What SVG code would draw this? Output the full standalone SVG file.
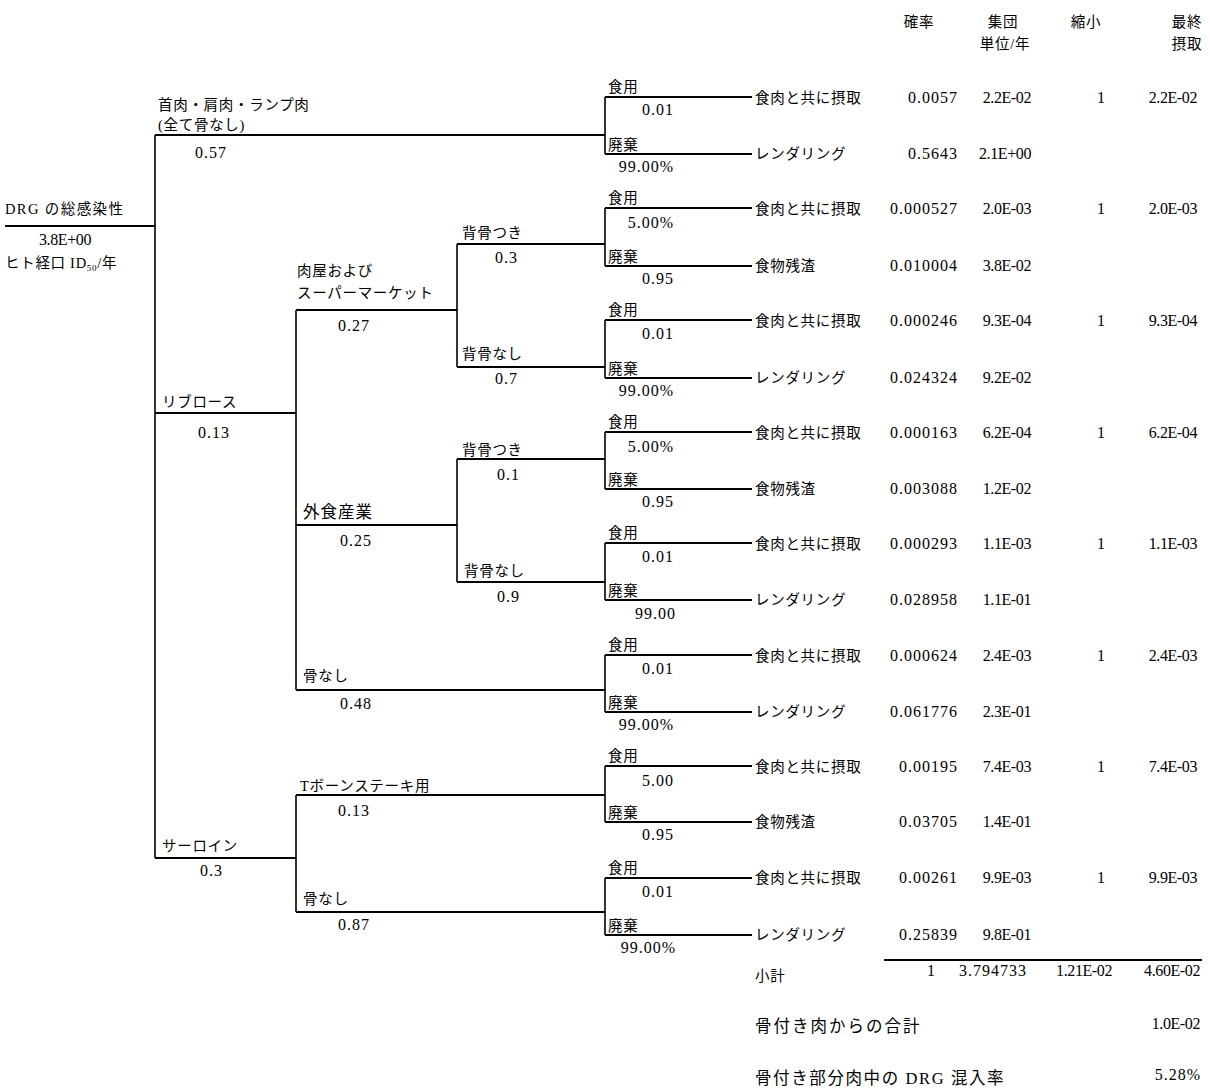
<svg xmlns="http://www.w3.org/2000/svg" width="1210" height="1089" viewBox="0 0 1210 1089">
<style>
text{fill:#000}
.jp{font-family:"Liberation Serif","Noto Sans CJK JP",serif;font-size:14.5px;letter-spacing:0.7px}
.jl{font-family:"Liberation Serif","Noto Sans CJK JP",serif;font-size:16.5px;letter-spacing:2px}
.n{font-family:"Liberation Serif",serif;font-size:16px;letter-spacing:1px}
.x{letter-spacing:-0.4px}
.e{text-anchor:end}
.m{text-anchor:middle}
.ln{stroke:#000;stroke-width:2;fill:none}
.lv{stroke:#000;stroke-width:1.6;fill:none}
</style>
<rect width="1210" height="1089" fill="#fff"/>

<g id="header">
<text class="jp m" x="919" y="27">確率</text>
<text class="jp m" x="1003" y="27">集団</text>
<text class="jp m" x="1005" y="49">単位/年</text>
<text class="jp m" x="1086" y="27">縮小</text>
<text class="jp m" x="1187" y="27">最終</text>
<text class="jp m" x="1187" y="49">摂取</text>
</g>

<g id="connectors">
<path class="ln" d="M5 226H155"/>
<path class="lv" d="M155 135V858"/>
<path class="ln" d="M155 135H605"/>
<path class="ln" d="M155 413H296"/>
<path class="ln" d="M155 858H296"/>
<path class="lv" d="M296 310V690"/>
<path class="ln" d="M296 310H457"/>
<path class="ln" d="M296 525H457"/>
<path class="ln" d="M296 690H605"/>
<path class="lv" d="M457 244V367"/>
<path class="ln" d="M457 244H605"/>
<path class="ln" d="M457 367H605"/>
<path class="lv" d="M457 459V582"/>
<path class="ln" d="M457 459H605"/>
<path class="ln" d="M457 582H605"/>
<path class="lv" d="M296 795V912"/>
<path class="ln" d="M296 795H605"/>
<path class="ln" d="M296 912H605"/>
<path class="lv" d="M605 97V154"/><path class="ln" d="M605 97H752M605 154H752"/>
<path class="lv" d="M605 208V266"/><path class="ln" d="M605 208H752M605 266H752"/>
<path class="lv" d="M605 320V378"/><path class="ln" d="M605 320H752M605 378H752"/>
<path class="lv" d="M605 432V489"/><path class="ln" d="M605 432H752M605 489H752"/>
<path class="lv" d="M605 543V600"/><path class="ln" d="M605 543H752M605 600H752"/>
<path class="lv" d="M605 655V712"/><path class="ln" d="M605 655H752M605 712H752"/>
<path class="lv" d="M605 766V822"/><path class="ln" d="M605 766H752M605 822H752"/>
<path class="lv" d="M605 878V935"/><path class="ln" d="M605 878H752M605 935H752"/>
<path class="ln" d="M884 960H1202"/>
</g>

<g id="root">
<text class="jp" x="5" y="214" style="letter-spacing:1.4px">DRG の総感染性</text>
<text class="n x" x="39" y="245">3.8E+00</text>
<text class="jp" x="5" y="268">ヒト経口 ID<tspan font-size="9" dy="3">50</tspan><tspan dy="-3">/年</tspan></text>
</g>

<g id="n-neck">
<text class="jp" x="158" y="110">首肉・肩肉・ランプ肉</text>
<text class="jp" x="158" y="130">(全て骨なし)</text>
<text class="n" x="195" y="158">0.57</text>
</g>
<g id="n-rib">
<text class="jp" x="162" y="407">リブロース</text>
<text class="n" x="198" y="438">0.13</text>
</g>
<g id="n-sirloin">
<text class="jp" x="162" y="851">サーロイン</text>
<text class="n" x="200" y="876">0.3</text>
</g>
<g id="n-butcher">
<text class="jp" x="297" y="276">肉屋および</text>
<text class="jp" x="297" y="298">スーパーマーケット</text>
<text class="n" x="338" y="331">0.27</text>
</g>
<g id="n-food">
<text class="jl" x="303" y="518" style="letter-spacing:1px">外食産業</text>
<text class="n" x="340" y="546">0.25</text>
</g>
<g id="n-boneless-rib">
<text class="jp" x="303" y="681">骨なし</text>
<text class="n" x="340" y="709">0.48</text>
</g>
<g id="n-tbone">
<text class="jp" x="300" y="791">Tボーンステーキ用</text>
<text class="n" x="338" y="816">0.13</text>
</g>
<g id="n-boneless-sirloin">
<text class="jp" x="303" y="904">骨なし</text>
<text class="n" x="338" y="930">0.87</text>
</g>
<g id="n-b-with">
<text class="jp" x="462" y="238">背骨つき</text>
<text class="n" x="495" y="263">0.3</text>
</g>
<g id="n-b-without">
<text class="jp" x="462" y="359">背骨なし</text>
<text class="n" x="495" y="384">0.7</text>
</g>
<g id="n-f-with">
<text class="jp" x="462" y="455">背骨つき</text>
<text class="n" x="497" y="480">0.1</text>
</g>
<g id="n-f-without">
<text class="jp" x="464" y="576">背骨なし</text>
<text class="n" x="497" y="602">0.9</text>
</g>

<g id="c1">
<text class="jp" x="608" y="92">食用</text><text class="n e" x="674" y="115">0.01</text>
<text class="jp" x="608" y="150">廃棄</text><text class="n e" x="674" y="172">99.00%</text>
<text class="jp" x="755" y="103">食肉と共に摂取</text><text class="n e" x="958" y="103">0.0057</text><text class="n x e" x="1031" y="103">2.2E-02</text><text class="n" x="1097" y="103">1</text><text class="n x e" x="1197" y="103">2.2E-02</text>
<text class="jp" x="755" y="159">レンダリング</text><text class="n e" x="958" y="159">0.5643</text><text class="n x e" x="1031" y="159">2.1E+00</text>
</g>
<g id="c2">
<text class="jp" x="608" y="203">食用</text><text class="n e" x="674" y="228">5.00%</text>
<text class="jp" x="608" y="262">廃棄</text><text class="n e" x="674" y="284">0.95</text>
<text class="jp" x="755" y="214">食肉と共に摂取</text><text class="n e" x="958" y="214">0.000527</text><text class="n x e" x="1031" y="214">2.0E-03</text><text class="n" x="1097" y="214">1</text><text class="n x e" x="1197" y="214">2.0E-03</text>
<text class="jp" x="755" y="271">食物残渣</text><text class="n e" x="958" y="271">0.010004</text><text class="n x e" x="1031" y="271">3.8E-02</text>
</g>
<g id="c3">
<text class="jp" x="608" y="315">食用</text><text class="n e" x="674" y="339">0.01</text>
<text class="jp" x="608" y="374">廃棄</text><text class="n e" x="674" y="396">99.00%</text>
<text class="jp" x="755" y="326">食肉と共に摂取</text><text class="n e" x="958" y="326">0.000246</text><text class="n x e" x="1031" y="326">9.3E-04</text><text class="n" x="1097" y="326">1</text><text class="n x e" x="1197" y="326">9.3E-04</text>
<text class="jp" x="755" y="383">レンダリング</text><text class="n e" x="958" y="383">0.024324</text><text class="n x e" x="1031" y="383">9.2E-02</text>
</g>
<g id="c4">
<text class="jp" x="608" y="427">食用</text><text class="n e" x="674" y="452">5.00%</text>
<text class="jp" x="608" y="485">廃棄</text><text class="n e" x="674" y="507">0.95</text>
<text class="jp" x="755" y="438">食肉と共に摂取</text><text class="n e" x="958" y="438">0.000163</text><text class="n x e" x="1031" y="438">6.2E-04</text><text class="n" x="1097" y="438">1</text><text class="n x e" x="1197" y="438">6.2E-04</text>
<text class="jp" x="755" y="494">食物残渣</text><text class="n e" x="958" y="494">0.003088</text><text class="n x e" x="1031" y="494">1.2E-02</text>
</g>
<g id="c5">
<text class="jp" x="608" y="538">食用</text><text class="n e" x="674" y="562">0.01</text>
<text class="jp" x="608" y="596">廃棄</text><text class="n e" x="676" y="619">99.00</text>
<text class="jp" x="755" y="549">食肉と共に摂取</text><text class="n e" x="958" y="549">0.000293</text><text class="n x e" x="1031" y="549">1.1E-03</text><text class="n" x="1097" y="549">1</text><text class="n x e" x="1197" y="549">1.1E-03</text>
<text class="jp" x="755" y="605">レンダリング</text><text class="n e" x="958" y="605">0.028958</text><text class="n x e" x="1031" y="605">1.1E-01</text>
</g>
<g id="c6">
<text class="jp" x="608" y="650">食用</text><text class="n e" x="674" y="674">0.01</text>
<text class="jp" x="608" y="708">廃棄</text><text class="n e" x="674" y="730">99.00%</text>
<text class="jp" x="755" y="661">食肉と共に摂取</text><text class="n e" x="958" y="661">0.000624</text><text class="n x e" x="1031" y="661">2.4E-03</text><text class="n" x="1097" y="661">1</text><text class="n x e" x="1197" y="661">2.4E-03</text>
<text class="jp" x="755" y="717">レンダリング</text><text class="n e" x="958" y="717">0.061776</text><text class="n x e" x="1031" y="717">2.3E-01</text>
</g>
<g id="c7">
<text class="jp" x="608" y="761">食用</text><text class="n e" x="674" y="786">5.00</text>
<text class="jp" x="608" y="818">廃棄</text><text class="n e" x="674" y="840">0.95</text>
<text class="jp" x="755" y="772">食肉と共に摂取</text><text class="n e" x="958" y="772">0.00195</text><text class="n x e" x="1031" y="772">7.4E-03</text><text class="n" x="1097" y="772">1</text><text class="n x e" x="1197" y="772">7.4E-03</text>
<text class="jp" x="755" y="827">食物残渣</text><text class="n e" x="958" y="827">0.03705</text><text class="n x e" x="1031" y="827">1.4E-01</text>
</g>
<g id="c8">
<text class="jp" x="608" y="873">食用</text><text class="n e" x="674" y="897">0.01</text>
<text class="jp" x="608" y="931">廃棄</text><text class="n e" x="676" y="953">99.00%</text>
<text class="jp" x="755" y="883">食肉と共に摂取</text><text class="n e" x="958" y="883">0.00261</text><text class="n x e" x="1031" y="883">9.9E-03</text><text class="n" x="1097" y="883">1</text><text class="n x e" x="1197" y="883">9.9E-03</text>
<text class="jp" x="755" y="940">レンダリング</text><text class="n e" x="958" y="940">0.25839</text><text class="n x e" x="1031" y="940">9.8E-01</text>
</g>

<g id="summary">
<text class="jp" x="755" y="981">小計</text>
<text class="n" x="927" y="976">1</text>
<text class="n e" x="1027" y="976">3.794733</text>
<text class="n x e" x="1112" y="976">1.21E-02</text>
<text class="n x e" x="1200" y="976">4.60E-02</text>
<text class="jl" x="755" y="1032">骨付き肉からの合計</text>
<text class="n x e" x="1200" y="1029">1.0E-02</text>
<text class="jl" x="755" y="1084" style="letter-spacing:1.6px">骨付き部分肉中の DRG 混入率</text>
<text class="n e" x="1201" y="1080">5.28%</text>
</g>
</svg>
